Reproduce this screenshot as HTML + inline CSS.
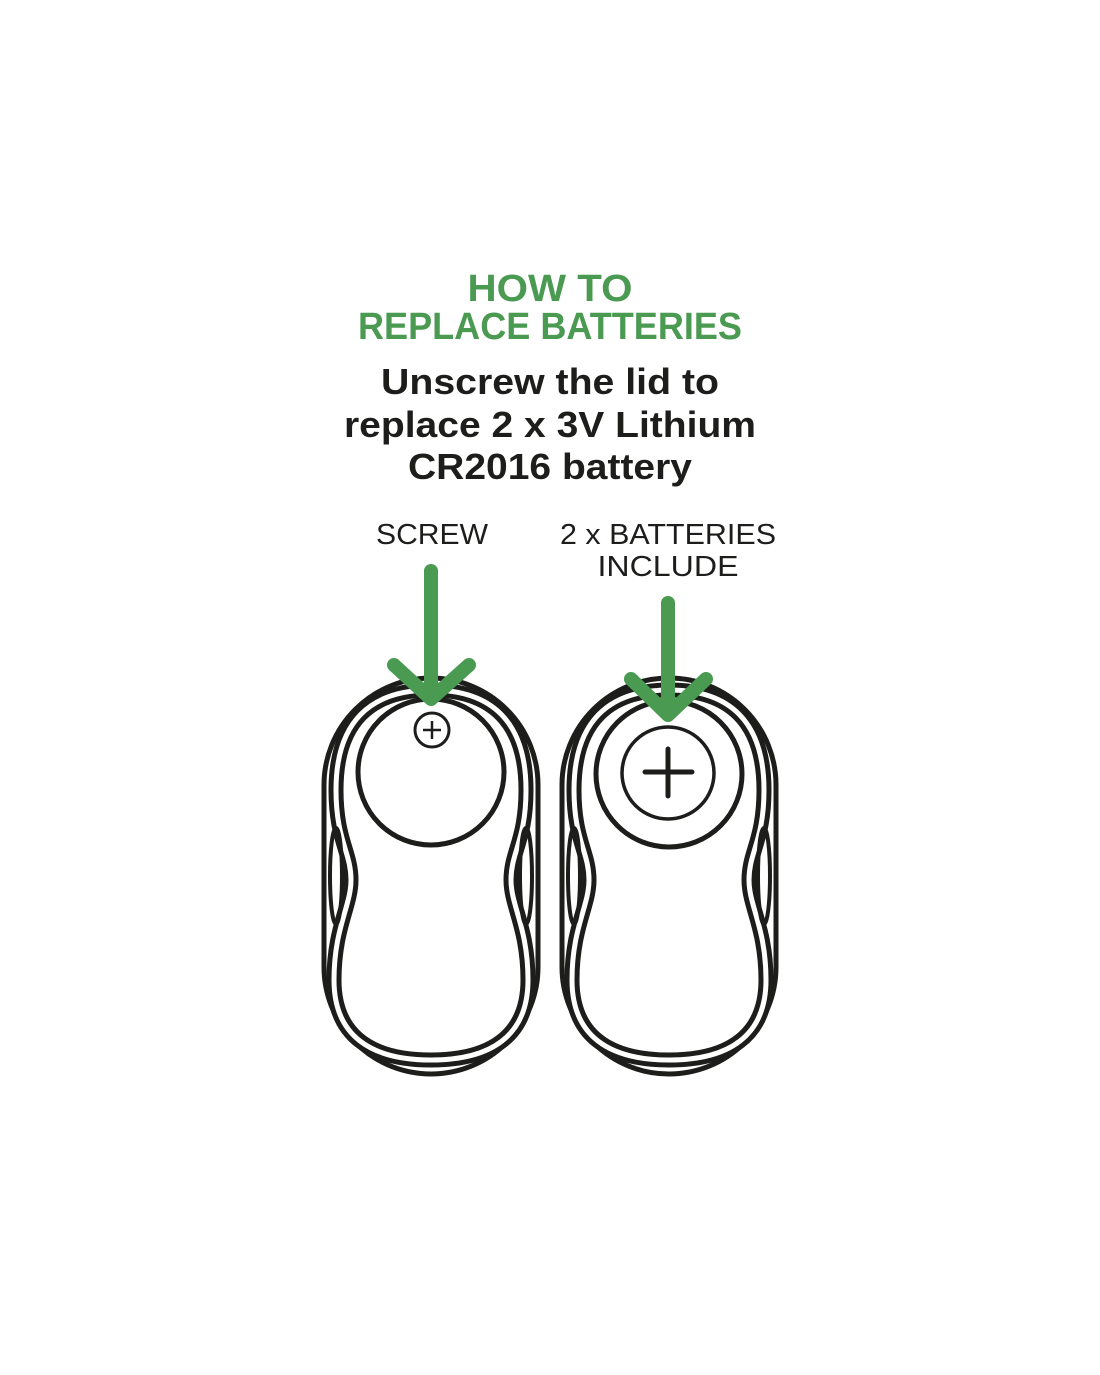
<!DOCTYPE html>
<html><head><meta charset="utf-8"><style>html,body{margin:0;padding:0;background:#fff;}svg{display:block;}</style></head>
<body>
<svg width="1100" height="1375" viewBox="0 0 1100 1375" xmlns="http://www.w3.org/2000/svg">
<rect width="1100" height="1375" fill="#fff"/>
<g font-family="Liberation Sans, sans-serif" text-anchor="middle">
<text x="550" y="301" font-size="38" font-weight="bold" fill="#4a9a52" textLength="165" lengthAdjust="spacingAndGlyphs">HOW TO</text>
<text x="550" y="339" font-size="38" font-weight="bold" fill="#4a9a52" textLength="384" lengthAdjust="spacingAndGlyphs">REPLACE BATTERIES</text>
<text x="550" y="394" font-size="36" font-weight="bold" fill="#1d1d1b" textLength="338" lengthAdjust="spacingAndGlyphs">Unscrew the lid to</text>
<text x="550" y="437" font-size="36" font-weight="bold" fill="#1d1d1b" textLength="412" lengthAdjust="spacingAndGlyphs">replace 2 x 3V Lithium</text>
<text x="550" y="479" font-size="36" font-weight="bold" fill="#1d1d1b" textLength="284" lengthAdjust="spacingAndGlyphs">CR2016 battery</text>
<text x="432" y="544" font-size="29" fill="#1d1d1b" textLength="112" lengthAdjust="spacingAndGlyphs">SCREW</text>
<text x="668" y="544" font-size="29" fill="#1d1d1b" textLength="216" lengthAdjust="spacingAndGlyphs">2 x BATTERIES</text>
<text x="668" y="576" font-size="29" fill="#1d1d1b" textLength="141" lengthAdjust="spacingAndGlyphs">INCLUDE</text>
</g>
<defs>
<path id="pea" d="M0,-186 C60,-186 95,-155 95,-86 C95,-36 80,-24 80,4 C80,30 97,52 97,104 C97,160 60,184 0,184 C-60,184 -97,160 -97,104 C-97,52 -80,30 -80,4 C-80,-24 -95,-36 -95,-86 C-95,-155 -60,-186 0,-186 Z"/>
<g id="dev" fill="none" stroke="#1d1d1b">
<rect x="-107" y="-198" width="214" height="396" rx="107" ry="107" stroke-width="5"/>
<use href="#pea" stroke-width="15"/>
<use href="#pea" stroke="#fff" stroke-width="5"/>
<ellipse cx="-95" cy="0" rx="6" ry="48" stroke-width="4"/>
<ellipse cx="95" cy="0" rx="6" ry="48" stroke-width="4"/>
</g>
</defs>
<use href="#dev" transform="translate(431,876)"/>
<use href="#dev" transform="translate(669,876)"/>
<g fill="none" stroke="#1d1d1b">
<circle cx="431" cy="772" r="73" stroke-width="5"/>
<circle cx="432" cy="730" r="17" stroke-width="3"/>
<path d="M423,730 H441 M432,721 V739" stroke-width="2.5"/>
<circle cx="669" cy="774" r="73" stroke-width="5"/>
<circle cx="668" cy="773" r="46" stroke-width="3.5"/>
<path d="M645,772 H692 M668,749 V796" stroke-width="5" stroke-linecap="round"/>
</g>
<g fill="none" stroke="#4a9a52" stroke-width="14" stroke-linecap="round" stroke-linejoin="round">
<path d="M431,571 V696"/>
<path d="M394,665 L431,699 L469,665"/>
<path d="M668,603 V712"/>
<path d="M631,679 L668,715 L706,679"/>
</g>
</svg>
</body></html>
